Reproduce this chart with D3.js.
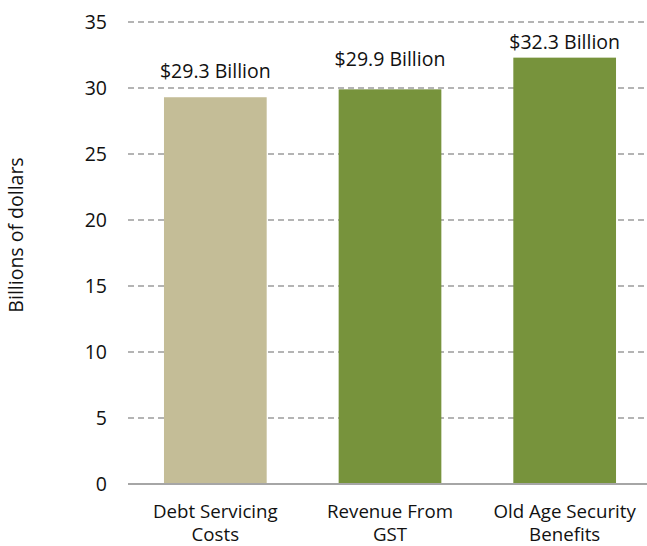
<!DOCTYPE html>
<html>
<head>
<meta charset="utf-8">
<script src="https://cdn.jsdelivr.net/npm/d3@7"></script>
<style>
  html, body { margin: 0; padding: 0; background: #fff; }
  svg { display: block; font-family: "Open Sans", "Noto Sans", sans-serif; }
</style>
</head>
<body>
<svg id="chart" width="647" height="546"></svg>
<script>
// Spending and revenue items, in billions of dollars
const categories = [["Debt Servicing", "Costs"], ["Revenue From", "GST"], ["Old Age Security", "Benefits"]];
const values = [29.3, 29.9, 32.3];
const valueLabels = ["$29.3 Billion", "$29.9 Billion", "$32.3 Billion"];
const barColors = ["#c4bd97", "#77933c", "#77933c"];
const yTicks = [0, 5, 10, 15, 20, 25, 30, 35];
const yTitle = "Billions of dollars";

// Layout
const width = 647, height = 546;
const plot = { left: 128, right: 652, top: 22, bottom: 484 };
const labelLift = [19, 23, 9]; // gap between each value label and its bar top
const fontSize = 19.5;
const catFontSize = 18.7;

const svg = d3.select("#chart");

const x = d3.scaleBand()
  .domain(d3.range(values.length))
  .range([plot.left, plot.right])
  .paddingInner(0.412)
  .paddingOuter(0.206);

const y = d3.scaleLinear()
  .domain([0, 35])
  .range([plot.bottom, plot.top]);

// Dashed gridlines
svg.append("g")
  .selectAll("line")
  .data(yTicks.filter(d => d > 0))
  .join("line")
  .attr("x1", plot.left)
  .attr("x2", width)
  .attr("y1", d => y(d))
  .attr("y2", d => y(d))
  .attr("stroke", "#9c9c9c")
  .attr("stroke-width", 1.5)
  .attr("stroke-dasharray", "6,4");

// Y tick labels
const yAxis = d3.axisLeft(y).tickValues(yTicks).tickSize(0).tickPadding(21);
const yg = svg.append("g").attr("transform", `translate(${plot.left},0)`).call(yAxis);
yg.select(".domain").remove();
yg.selectAll("text")
  .attr("font-family", "Open Sans, Noto Sans, sans-serif")
  .attr("font-size", fontSize)
  .attr("fill", "#111");

// Bars
svg.append("g")
  .selectAll("rect")
  .data(values)
  .join("rect")
  .attr("x", (d, i) => x(i))
  .attr("width", x.bandwidth())
  .attr("y", d => y(d))
  .attr("height", d => y(0) - y(d))
  .attr("fill", (d, i) => barColors[i]);

// Baseline
svg.append("line")
  .attr("x1", plot.left)
  .attr("x2", width)
  .attr("y1", y(0))
  .attr("y2", y(0))
  .attr("stroke", "#a6a6a6")
  .attr("stroke-width", 2);

// Value labels
svg.append("g")
  .selectAll("text")
  .data(values)
  .join("text")
  .attr("x", (d, i) => x(i) + x.bandwidth() / 2)
  .attr("y", (d, i) => y(d) - labelLift[i])
  .attr("text-anchor", "middle")
  .attr("font-size", fontSize)
  .attr("fill", "#111")
  .text((d, i) => valueLabels[i]);

// Category labels (two lines each)
const cat = svg.append("g")
  .selectAll("text")
  .data(categories)
  .join("text")
  .attr("text-anchor", "middle")
  .attr("font-size", catFontSize)
  .attr("fill", "#111");
cat.selectAll("tspan")
  .data((d, i) => d.map(line => ({ line, i })))
  .join("tspan")
  .attr("x", d => x(d.i) + x.bandwidth() / 2)
  .attr("y", (d, j) => 518 + j * 23)
  .text(d => d.line);

// Y axis title
svg.append("text")
  .attr("transform", `translate(23,235) rotate(-90)`)
  .attr("text-anchor", "middle")
  .attr("font-size", fontSize)
  .attr("fill", "#111")
  .text(yTitle);
</script>
</body>
</html>
